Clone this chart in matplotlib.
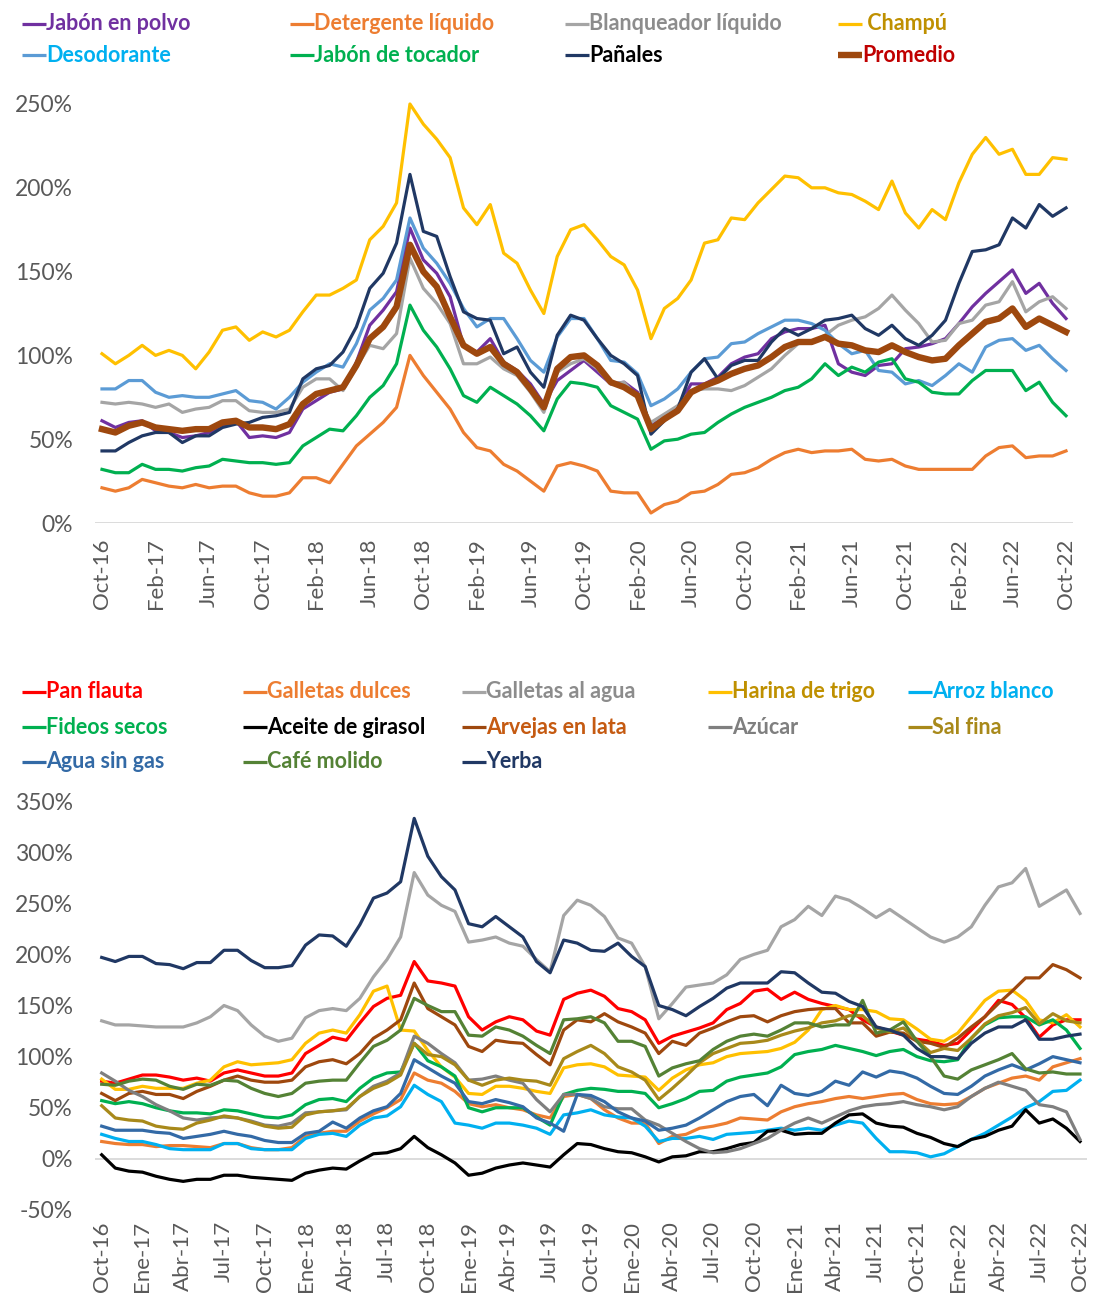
import matplotlib.pyplot as plt
from matplotlib.lines import Line2D

plt.rcParams['font.family'] = ['Lato', 'DejaVu Sans']

W, H = 1093, 1302

# ---------------- top chart: limpieza / higiene ----------------
top_ticks = ["Oct-16", "Feb-17", "Jun-17", "Oct-17", "Feb-18", "Jun-18", "Oct-18",
             "Feb-19", "Jun-19", "Oct-19", "Feb-20", "Jun-20", "Oct-20", "Feb-21",
             "Jun-21", "Oct-21", "Feb-22", "Jun-22", "Oct-22"]

jabon_polvo = [61, 57, 60, 61, 55, 54, 51, 52, 54, 58, 61, 51, 52, 51, 54, 68, 73, 78, 80, 96,
               118, 127, 138, 176, 157, 149, 135, 106, 102, 110, 96, 91, 83, 71, 85, 91, 97, 90, 83, 84,
               78, 58, 63, 69, 83, 83, 87, 95, 99, 101, 110, 114, 116, 116, 118, 95, 90, 88, 94, 95,
               104, 105, 107, 110, 119, 129, 137, 144, 151, 137, 143, 131, 122]
detergente = [21, 19, 21, 26, 24, 22, 21, 23, 21, 22, 22, 18, 16, 16, 18, 27, 27, 24, 35, 46,
              53, 60, 69, 100, 88, 78, 68, 54, 45, 43, 35, 31, 25, 19, 34, 36, 34, 31, 19, 18,
              18, 6, 11, 13, 18, 19, 23, 29, 30, 33, 38, 42, 44, 42, 43, 43, 44, 38, 37, 38,
              34, 32, 32, 32, 32, 32, 40, 45, 46, 39, 40, 40, 43]
blanqueador = [72, 71, 72, 71, 69, 71, 66, 68, 69, 73, 73, 67, 66, 66, 68, 81, 86, 86, 79, 93,
               106, 104, 113, 158, 140, 131, 119, 95, 95, 99, 92, 88, 78, 66, 90, 95, 98, 92, 83, 84,
               75, 60, 65, 70, 79, 80, 80, 79, 82, 87, 92, 100, 107, 108, 112, 118, 121, 123, 128, 136,
               127, 119, 108, 109, 119, 121, 130, 132, 144, 126, 132, 135, 128]
champu = [101, 95, 100, 106, 100, 103, 100, 92, 102, 115, 117, 109, 114, 111, 115, 126, 136, 136, 140, 145,
          169, 177, 191, 250, 238, 229, 218, 188, 178, 190, 161, 155, 139, 125, 159, 175, 178, 169, 159, 154,
          139, 110, 128, 134, 145, 167, 169, 182, 181, 191, 199, 207, 206, 200, 200, 197, 196, 192, 187, 204,
          185, 176, 187, 181, 203, 220, 230, 220, 223, 208, 208, 218, 217]
desodorante = [80, 80, 85, 85, 78, 75, 76, 75, 75, 77, 79, 73, 72, 68, 75, 84, 90, 95, 93, 107,
               127, 134, 145, 182, 164, 155, 143, 128, 117, 122, 122, 110, 97, 90, 111, 122, 122, 110, 97, 96,
               89, 70, 74, 80, 90, 98, 99, 107, 108, 113, 117, 121, 121, 119, 115, 107, 101, 103, 91, 90,
               83, 85, 82, 88, 95, 90, 105, 109, 110, 103, 106, 98, 91]
jabon_tocador = [32, 30, 30, 35, 32, 32, 31, 33, 34, 38, 37, 36, 36, 35, 36, 46, 51, 56, 55, 64,
                 75, 82, 95, 130, 115, 105, 92, 76, 72, 81, 76, 71, 64, 55, 74, 84, 83, 81, 70, 66,
                 62, 44, 49, 50, 53, 54, 60, 65, 69, 72, 75, 79, 81, 86, 95, 88, 93, 90, 96, 98,
                 86, 84, 78, 77, 77, 85, 91, 91, 91, 79, 84, 72, 64]
panales = [43, 43, 48, 52, 54, 54, 48, 52, 52, 57, 59, 60, 63, 64, 66, 86, 92, 94, 102, 117,
           140, 149, 167, 208, 174, 171, 147, 126, 122, 121, 101, 105, 90, 81, 112, 124, 121, 110, 100, 95,
           88, 53, 61, 68, 90, 98, 86, 94, 97, 97, 108, 116, 112, 116, 121, 122, 124, 116, 112, 118,
           110, 106, 112, 121, 143, 162, 163, 166, 182, 176, 190, 183, 188]
promedio = [56, 54, 58, 60, 57, 56, 55, 56, 56, 60, 61, 57, 57, 56, 59, 71, 77, 79, 81, 94,
            110, 117, 129, 166, 150, 141, 123, 106, 101, 105, 95, 90, 80, 69, 92, 99, 100, 94, 84, 81,
            76, 56, 62, 67, 78, 82, 85, 89, 92, 94, 99, 105, 108, 108, 111, 107, 106, 103, 102, 106,
            102, 99, 97, 98, 106, 113, 120, 122, 128, 117, 122, 118, 114]

top_names = ["Jabón en polvo", "Detergente líquido", "Blanqueador líquido", " Champú",
             "Desodorante", "Jabón de tocador", "Pañales", "Promedio"]
top_series = [jabon_polvo, detergente, blanqueador, champu,
              desodorante, jabon_tocador, panales, promedio]
top_colors = ["#7030a0", "#ed7d31", "#a5a5a5", "#ffc000", "#5b9bd5", "#00b050", "#203864", "#9e480e"]
top_text_colors = ["#7030a0", "#ed7d31", "#8c8c8c", "#bf9000", "#00b0f0", "#00b050", "#000000", "#c00000"]
top_widths = [2.3, 2.3, 2.3, 2.3, 2.3, 2.3, 2.3, 4.6]

# ---------------- bottom chart: alimentos ----------------
bottom_ticks = ["Oct-16", "Ene-17", "Abr-17", "Jul-17", "Oct-17", "Ene-18", "Abr-18", "Jul-18",
                "Oct-18", "Ene-19", "Abr-19", "Jul-19", "Oct-19", "Ene-20", "Abr-20", "Jul-20",
                "Oct-20", "Ene-21", "Abr-21", "Jul-21", "Oct-21", "Ene-22", "Abr-22", "Jul-22", "Oct-22"]

pan_flauta = [76, 74, 78, 82, 82, 80, 77, 79, 76, 84, 87, 84, 81, 81, 84, 103, 111, 119, 116, 133,
              149, 157, 160, 193, 174, 172, 169, 139, 126, 134, 139, 136, 125, 121, 156, 162, 165, 159, 147, 144,
              136, 113, 120, 124, 128, 133, 146, 152, 164, 166, 156, 163, 156, 152, 149, 146, 136, 129, 125, 121,
              117, 115, 111, 113, 126, 139, 155, 151, 138, 119, 131, 136, 136]
galletas_dulces = [17, 15, 14, 14, 12, 13, 13, 12, 11, 15, 15, 11, 9, 9, 11, 22, 25, 27, 27, 37,
                   44, 50, 58, 84, 77, 74, 66, 54, 51, 53, 50, 48, 43, 40, 61, 63, 59, 48, 40, 35,
                   35, 15, 22, 24, 30, 32, 35, 40, 39, 38, 46, 51, 54, 56, 59, 61, 59, 61, 63, 64,
                   58, 54, 53, 54, 61, 69, 74, 79, 81, 77, 90, 94, 98]
galletas_agua = [135, 131, 131, 130, 129, 129, 129, 133, 139, 150, 145, 131, 120, 115, 118, 138, 145, 147, 145, 157,
                 178, 195, 217, 280, 258, 248, 242, 212, 214, 217, 211, 208, 195, 183, 238, 253, 248, 237, 216, 211,
                 188, 137, 152, 168, 170, 172, 180, 195, 200, 204, 227, 234, 247, 238, 257, 253, 245, 236, 244, 235,
                 226, 217, 212, 217, 227, 248, 266, 270, 284, 247, 255, 263, 240]
harina = [78, 68, 68, 71, 69, 69, 69, 74, 77, 90, 95, 92, 93, 94, 97, 113, 123, 126, 123, 141,
          164, 169, 126, 125, 106, 90, 80, 64, 63, 71, 71, 69, 66, 64, 89, 92, 93, 90, 82, 81,
          80, 67, 79, 87, 92, 94, 100, 103, 104, 105, 108, 114, 126, 146, 150, 146, 146, 144, 137, 136,
          127, 117, 115, 123, 139, 155, 164, 165, 155, 136, 133, 141, 129]
arroz = [24, 20, 17, 17, 14, 10, 9, 9, 9, 15, 15, 10, 9, 9, 9, 20, 24, 25, 22, 33,
         40, 42, 51, 72, 63, 56, 35, 33, 30, 35, 35, 33, 30, 24, 43, 45, 48, 43, 41, 40,
         32, 17, 20, 20, 22, 19, 24, 25, 26, 28, 30, 28, 30, 28, 33, 37, 35, 20, 7, 7,
         6, 2, 5, 12, 19, 25, 33, 41, 50, 56, 66, 67, 77]
fideos = [57, 54, 56, 54, 50, 47, 45, 45, 44, 48, 47, 44, 41, 40, 43, 53, 58, 59, 56, 69,
          79, 84, 85, 113, 96, 90, 81, 50, 46, 50, 50, 50, 41, 33, 63, 67, 69, 68, 66, 66,
          64, 50, 54, 59, 66, 67, 76, 80, 82, 84, 90, 102, 105, 107, 111, 108, 105, 101, 105, 107,
          100, 96, 95, 97, 118, 131, 138, 139, 139, 131, 136, 126, 108]
aceite = [4, -9, -12, -13, -17, -20, -22, -20, -20, -16, -16, -18, -19, -20, -21, -14, -11, -9, -10, -2,
          5, 6, 10, 22, 11, 4, -4, -16, -14, -9, -6, -4, -6, -8, 4, 15, 14, 10, 7, 6,
          2, -3, 2, 3, 7, 7, 10, 14, 16, 27, 28, 24, 25, 25, 35, 43, 44, 35, 32, 31,
          25, 21, 15, 12, 19, 22, 28, 32, 48, 35, 39, 30, 17]
arvejas = [64, 57, 64, 66, 63, 63, 59, 66, 71, 77, 81, 77, 75, 75, 77, 90, 95, 97, 93, 103,
           118, 126, 136, 172, 147, 139, 131, 110, 105, 116, 114, 113, 102, 92, 126, 136, 134, 142, 134, 129,
           123, 103, 115, 111, 123, 128, 134, 139, 140, 134, 140, 144, 146, 147, 147, 133, 133, 120, 124, 123,
           115, 113, 109, 118, 129, 139, 152, 164, 177, 177, 190, 185, 177]
azucar = [84, 76, 67, 61, 53, 47, 40, 38, 40, 41, 40, 37, 33, 32, 35, 45, 46, 47, 48, 61,
          71, 76, 84, 120, 113, 103, 94, 77, 78, 81, 77, 74, 58, 46, 63, 63, 59, 51, 49, 49,
          38, 33, 25, 17, 10, 6, 7, 10, 15, 20, 28, 35, 40, 35, 41, 47, 51, 53, 54, 56,
          53, 51, 48, 51, 61, 69, 75, 71, 67, 53, 51, 46, 19]
sal_fina = [52, 40, 38, 37, 32, 30, 29, 35, 38, 42, 40, 36, 32, 30, 31, 43, 46, 47, 49, 61,
            69, 74, 82, 113, 102, 100, 92, 77, 72, 77, 79, 77, 76, 72, 98, 105, 111, 103, 90, 85,
            77, 58, 69, 81, 94, 103, 108, 113, 114, 116, 121, 125, 128, 133, 135, 140, 140, 128, 124, 128,
            116, 104, 108, 106, 118, 132, 140, 143, 148, 132, 142, 135, 133]
agua = [32, 28, 28, 28, 26, 25, 20, 22, 24, 27, 24, 22, 18, 16, 16, 25, 27, 36, 30, 40,
        47, 51, 64, 97, 89, 81, 74, 56, 54, 58, 55, 51, 40, 35, 27, 63, 62, 56, 46, 40,
        37, 28, 30, 33, 40, 48, 56, 61, 63, 52, 72, 64, 62, 66, 76, 72, 85, 80, 86, 84,
        79, 71, 64, 63, 71, 81, 87, 92, 87, 93, 100, 97, 94]
cafe = [73, 72, 76, 78, 77, 71, 68, 73, 72, 77, 76, 69, 64, 61, 64, 74, 76, 77, 77, 94,
        110, 116, 126, 157, 150, 144, 144, 121, 120, 129, 126, 120, 111, 103, 136, 137, 139, 133, 115, 115,
        110, 81, 89, 93, 96, 107, 115, 120, 122, 120, 126, 133, 133, 129, 131, 131, 155, 123, 126, 134,
        115, 100, 81, 78, 87, 92, 97, 103, 88, 84, 85, 83, 83]
yerba = [197, 193, 198, 198, 191, 190, 186, 192, 192, 204, 204, 194, 187, 187, 189, 209, 219, 218, 208, 229,
         255, 260, 271, 333, 296, 276, 263, 230, 227, 237, 227, 217, 193, 182, 214, 211, 204, 203, 211, 198,
         188, 150, 146, 140, 149, 157, 167, 172, 172, 172, 183, 182, 172, 163, 162, 154, 149, 129, 126, 121,
         108, 100, 100, 98, 113, 123, 129, 129, 136, 117, 117, 120, 122]

bottom_names = ["Pan flauta", "Galletas dulces", "Galletas al agua", "Harina de trigo", "Arroz blanco",
                "Fideos secos", "Aceite de girasol", "Arvejas en lata", "Azúcar", "Sal fina",
                "Agua sin gas", "Café molido", "Yerba"]
bottom_series = [pan_flauta, galletas_dulces, galletas_agua, harina, arroz,
                 fideos, aceite, arvejas, azucar, sal_fina, agua, cafe, yerba]
bottom_colors = ["#ff0000", "#ed7d31", "#a5a5a5", "#ffc000", "#00b0f0",
                 "#00b050", "#000000", "#9e480e", "#7f7f7f", "#a8891a",
                 "#336aa6", "#548235", "#203864"]
bottom_text_colors = ["#ff0000", "#ed7d31", "#8c8c8c", "#bf9000", "#00b0f0",
                      "#00b050", "#000000", "#c55a11", "#7f7f7f", "#a8891a",
                      "#336aa6", "#548235", "#203864"]


def fx(px):
    return px / W


def fy(py):
    return 1 - py / H


# Legend drawn by hand so the columns sit where the original has them
def draw_legend(fig, names, colors, text_colors, widths, xs, ys, ncol):
    for k, name in enumerate(names):
        x = xs[k % ncol]
        y = ys[k // ncol]
        fig.add_artist(Line2D([fx(x), fx(x + 24)], [fy(y), fy(y)], transform=fig.transFigure,
                              color=colors[k], lw=widths[k], solid_capstyle='butt'))
        fig.text(fx(x + 24), fy(y), name, color=text_colors[k], fontsize=15.5,
                 fontweight='bold', va='center', ha='left')


def style_axis(ax, ymin, ymax, step, ticks, tick_every, xpad):
    ax.set_xlim(-0.5, 72.5)
    ax.set_ylim(ymin, ymax)
    yt = list(range(ymin, ymax + 1, step))
    ax.set_yticks(yt)
    ax.set_yticklabels([f"{v}%" for v in yt])
    ax.set_xticks(range(0, 73, tick_every))
    ax.set_xticklabels(ticks, rotation=90)
    ax.tick_params(axis='y', length=0, pad=16, labelsize=16.5, labelcolor='#595959')
    ax.tick_params(axis='x', length=0, pad=xpad, labelsize=16, labelcolor='#595959')
    for s in ax.spines.values():
        s.set_visible(False)
    ax.axhline(0, color='#d9d9d9', lw=1.3, zorder=0)


fig = plt.figure(figsize=(W / 100, H / 100), dpi=100)

# Top chart
ax1 = fig.add_axes([fx(95.3), fy(523), fx(977.4), 419 / H])
x = list(range(len(promedio)))
for vals, col, lw in zip(top_series, top_colors, top_widths):
    ax1.plot(x, vals, color=col, lw=lw, solid_joinstyle='round', clip_on=False)
style_axis(ax1, 0, 250, 50, top_ticks, 4, 11)
draw_legend(fig, top_names, top_colors, top_text_colors, top_widths,
            [22, 290, 565, 838], [24, 55], 4)

# Bottom chart
ax2 = fig.add_axes([fx(94.9), fy(1210), fx(991.9), 409 / H])
for vals, col in zip(bottom_series, bottom_colors):
    ax2.plot(x, vals, color=col, lw=2.3, solid_joinstyle='round', clip_on=False)
style_axis(ax2, -50, 350, 50, bottom_ticks, 3, 8)
draw_legend(fig, bottom_names, bottom_colors, bottom_text_colors, [2.3] * 13,
            [22, 243, 462, 708, 908], [692, 727, 762], 5)

fig.savefig("out.png", dpi=100)
